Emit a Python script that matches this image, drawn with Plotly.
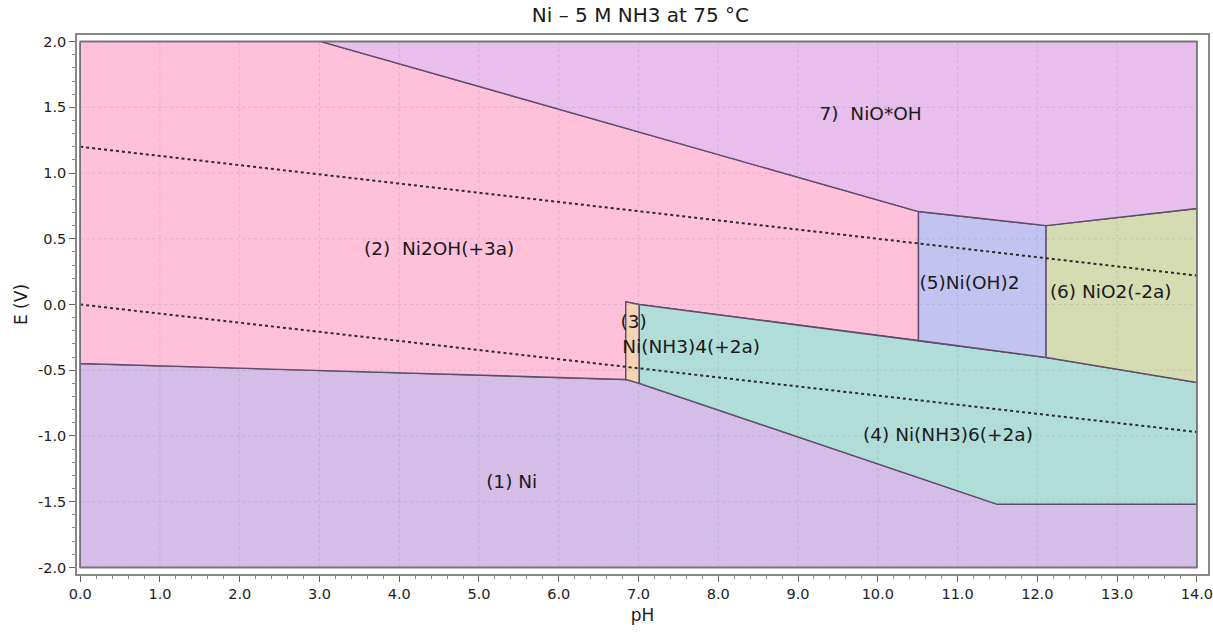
import plotly.graph_objects as go

# Region polygons (pH, E)
regions = {
    "(1) Ni": {
        "ph": [0, 6.84, 7.01, 11.5, 14, 14, 0],
        "e": [-0.449, -0.57, -0.60, -1.52, -1.52, -2.0, -2.0],
        "color": "#D4BDE7",
    },
    "(2) Ni2OH(+3a)": {
        "ph": [0, 3.02, 10.51, 10.51, 7.01, 6.84, 6.84, 0],
        "e": [2.0, 2.0, 0.707, -0.274, 0.0, 0.02, -0.57, -0.449],
        "color": "#FFC0DA",
    },
    "(3)": {
        "ph": [6.84, 7.01, 7.01, 6.84],
        "e": [0.02, 0.0, -0.60, -0.57],
        "color": "#F6D3B2",
    },
    "(4) Ni(NH3)6(+2a)": {
        "ph": [7.01, 10.51, 12.11, 14, 14, 11.5, 7.01],
        "e": [0.0, -0.274, -0.403, -0.593, -1.52, -1.52, -0.60],
        "color": "#B1DDD8",
    },
    "(5)Ni(OH)2": {
        "ph": [10.51, 12.11, 12.11, 10.51],
        "e": [0.707, 0.60, -0.403, -0.274],
        "color": "#C2C3F1",
    },
    "(6) NiO2(-2a)": {
        "ph": [12.11, 14, 14, 12.11],
        "e": [0.60, 0.73, -0.593, -0.403],
        "color": "#D6DCB2",
    },
    "7) NiO*OH": {
        "ph": [3.02, 14, 14, 12.11, 10.51],
        "e": [2.0, 2.0, 0.73, 0.60, 0.707],
        "color": "#E7BEEC",
    },
}

# Water stability lines
water_ph = [0, 14]
water_upper = [1.2, 0.22]
water_lower = [0.0, -0.97]

# Labels
label_text = ["7)\u00a0\u00a0NiO*OH", "(2)\u00a0\u00a0Ni2OH(+3a)", "(5)Ni(OH)2", "(6) NiO2(-2a)",
              "(3)", "Ni(NH3)4(+2a)", "(4) Ni(NH3)6(+2a)", "(1) Ni"]
label_ph = [9.91, 4.5, 11.15, 12.92, 6.94, 7.66, 10.88, 5.41]
label_e = [1.44, 0.41, 0.152, 0.084, -0.145, -0.33, -1.0, -1.36]

x_ticks = [float(i) for i in range(15)]
y_ticks = [-2.0, -1.5, -1.0, -0.5, 0.0, 0.5, 1.0, 1.5, 2.0]

line_col = "#5E4C6A"
fig = go.Figure()
for name, r in regions.items():
    fig.add_trace(go.Scatter(
        x=r["ph"] + [r["ph"][0]], y=r["e"] + [r["e"][0]],
        mode="lines", fill="toself", fillcolor=r["color"],
        line=dict(color=line_col, width=1.4), hoverinfo="skip", showlegend=False))

for ys in (water_upper, water_lower):
    fig.add_trace(go.Scatter(x=water_ph, y=ys, mode="lines",
                             line=dict(color="#2b2b2b", width=2, dash="dot"),
                             hoverinfo="skip", showlegend=False))

fig.add_trace(go.Scatter(x=label_ph, y=label_e, mode="text", text=label_text,
                         textfont=dict(family="DejaVu Sans", size=18.5, color="#1a1a1a"),
                         hoverinfo="skip", showlegend=False))

shapes = []
for xv in x_ticks:
    shapes.append(dict(type="line", xref="x", yref="y", x0=xv, x1=xv, y0=-2.0, y1=2.0,
                       line=dict(color="rgba(120,120,150,0.22)", width=1, dash="dot"), layer="above"))
for yv in y_ticks:
    shapes.append(dict(type="line", xref="x", yref="y", x0=0, x1=14, y0=yv, y1=yv,
                       line=dict(color="rgba(120,120,150,0.22)", width=1, dash="dot"), layer="above"))
# data area border
shapes.append(dict(type="rect", xref="x", yref="y", x0=0, x1=14, y0=-2.0, y1=2.0,
                   line=dict(color="#777777", width=1.5), layer="above"))

fig.update_layout(
    width=1213, height=634,
    margin=dict(l=77, r=5, t=35, b=60),
    paper_bgcolor="white", plot_bgcolor="#FDFDFD",
    title=dict(text="Ni – 5 M NH3 at 75 °C", x=0.528, xanchor="center", y=0.977, yanchor="middle",
               font=dict(family="DejaVu Sans", size=20, color="#1a1a1a")),
    font=dict(family="DejaVu Sans", color="#1a1a1a"),
    shapes=shapes,
)
fig.update_xaxes(range=[-0.04, 14.14], tickvals=x_ticks, ticktext=[f"{v:.1f}" for v in x_ticks],
                 automargin=False,
                 ticks="outside", ticklen=6, tickcolor="#666", showgrid=False, zeroline=False,
                 showline=True, linecolor="#888", linewidth=1.5, mirror=True,
                 minor=dict(dtick=0.2, ticks="outside", ticklen=3, tickcolor="#888"),
                 tickfont=dict(size=14.5, family="DejaVu Sans", color="#222"),
                 title=dict(text="pH", font=dict(size=17), standoff=8))
fig.update_yaxes(range=[-2.05, 2.05], tickvals=y_ticks, ticktext=[f"{v:.1f}" for v in y_ticks],
                 automargin=False,
                 ticks="outside", ticklen=6, tickcolor="#666", showgrid=False, zeroline=False,
                 showline=True, linecolor="#888", linewidth=1.5, mirror=True,
                 minor=dict(dtick=0.1, ticks="outside", ticklen=3, tickcolor="#888"),
                 tickfont=dict(size=14.5, family="DejaVu Sans", color="#222"),
                 title=dict(text="E (V)", font=dict(size=17), standoff=6))

fig.write_html("out.html")
